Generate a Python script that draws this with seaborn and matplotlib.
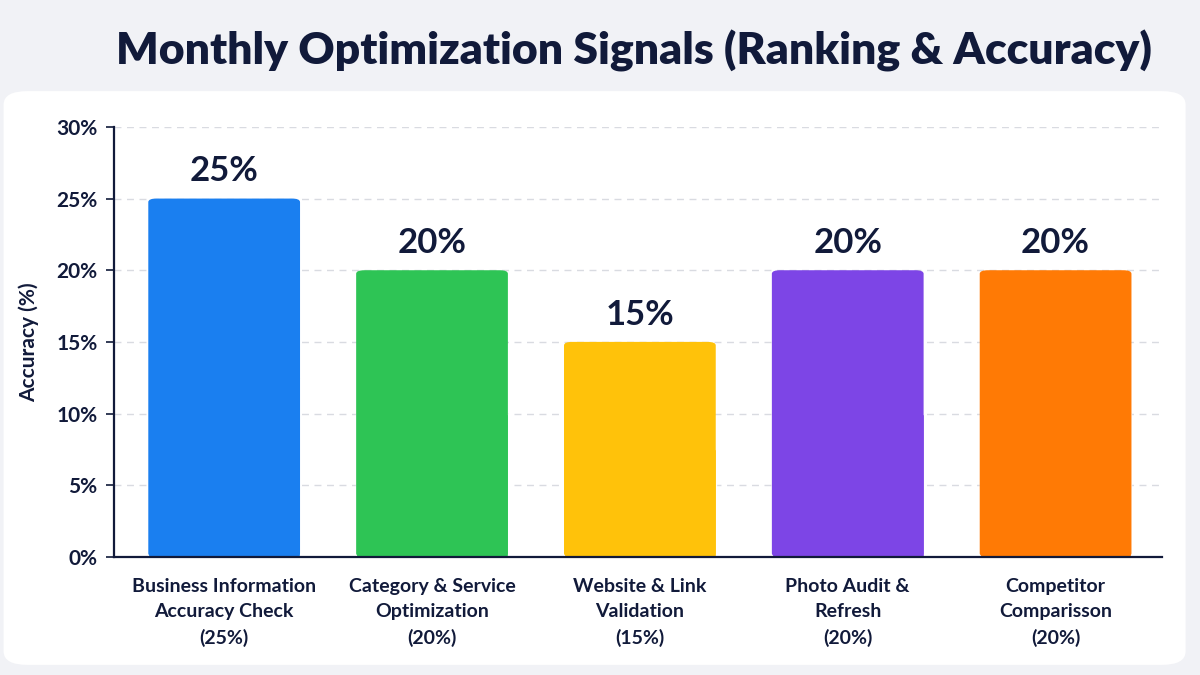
import matplotlib
matplotlib.use('Agg')
import matplotlib.pyplot as plt
from matplotlib.patches import FancyBboxPatch
from matplotlib.ticker import PercentFormatter
import seaborn as sns
import pandas as pd

# ── DATA ─────────────────────────────────────────────────────
categories = ['Business Information\nAccuracy Check\n(25%)',
              'Category & Service\nOptimization\n(20%)',
              'Website & Link\nValidation\n(15%)',
              'Photo Audit &\nRefresh\n(20%)',
              'Competitor\nComparisson\n(20%)']
values = [25, 20, 15, 20, 20]
colors = ['#1a7ff0', '#2ec455', '#ffc20a', '#7d45e6', '#ff7a05']

df = pd.DataFrame({'category': categories, 'value': values})

# ── STYLE ────────────────────────────────────────────────────
sns.set_theme(style='white')
plt.rcParams['font.family'] = ['Lato', 'DejaVu Sans']
navy = '#111a3a'

fig = plt.figure(figsize=(12, 6.75), dpi=100)
fig.patch.set_facecolor('#f1f2f6')
card = FancyBboxPatch((0.003, 0.015), 0.985, 0.85, transform=fig.transFigure,
                      boxstyle='round,pad=0,rounding_size=0.02',
                      facecolor='white', edgecolor='none', zorder=-5)
fig.patches.append(card)

ax = fig.add_axes([0.095, 0.175, 0.873, 0.637])
ax.set_facecolor('none')
ax.set_zorder(2)

sns.barplot(data=df, x='category', y='value', hue='category',
            palette=colors, legend=False, width=0.73, saturation=1, ax=ax)

# rounded tops: swap each bar for a rounded box of the same extent
bars = list(ax.patches)
for bar in bars:
    x0, w, h = bar.get_x(), bar.get_width(), bar.get_height()
    fb = FancyBboxPatch((x0, 0), w, h, boxstyle='round,pad=0,rounding_size=0.04',
                        mutation_aspect=30 / 5.04 * 1048 / 430 / 2.4,
                        facecolor=bar.get_facecolor(), edgecolor='none', zorder=2)
    ax.add_patch(fb)
    # keep the lower half square
    bar.set_height(h * 0.5)

for bar, val in zip(bars, values):
    ax.text(bar.get_x() + bar.get_width() / 2, val + 1.9, f'{val}%',
            ha='center', va='center', fontsize=25, fontweight='bold', color=navy)

ax.set_ylim(0, 30)
ax.set_xlim(-0.53, 4.51)
ax.set_yticks(range(0, 31, 5))
ax.yaxis.set_major_formatter(PercentFormatter(decimals=0))
ax.yaxis.grid(True, linestyle=(0, (5, 4)), color='#d9dbe1', linewidth=1)
ax.set_axisbelow(True)
for s in ['top', 'right']:
    ax.spines[s].set_visible(False)
for s in ['left', 'bottom']:
    ax.spines[s].set_color(navy)
    ax.spines[s].set_linewidth(1.6)
    ax.spines[s].set_zorder(5)
ax.tick_params(axis='y', left=True, length=6, width=1.2, color=navy,
               labelsize=15, labelcolor=navy, pad=6)
ax.tick_params(axis='x', bottom=False, labelsize=14, labelcolor=navy, pad=9)
ax.set_xticks(range(len(categories)))
ax.set_xticklabels(categories, fontweight='bold', linespacing=1.6)
for lbl in ax.get_yticklabels():
    lbl.set_fontweight('bold')
ax.set_xlabel('')
ax.set_ylabel('Accuracy (%)', fontsize=15, fontweight='bold', color=navy, labelpad=12)

fig.text(0.528, 0.925, 'Monthly Optimization Signals (Ranking & Accuracy)',
         ha='center', va='center', fontsize=32, fontweight='heavy', color=navy)

plt.savefig('out.png', dpi=100, facecolor=fig.get_facecolor())
